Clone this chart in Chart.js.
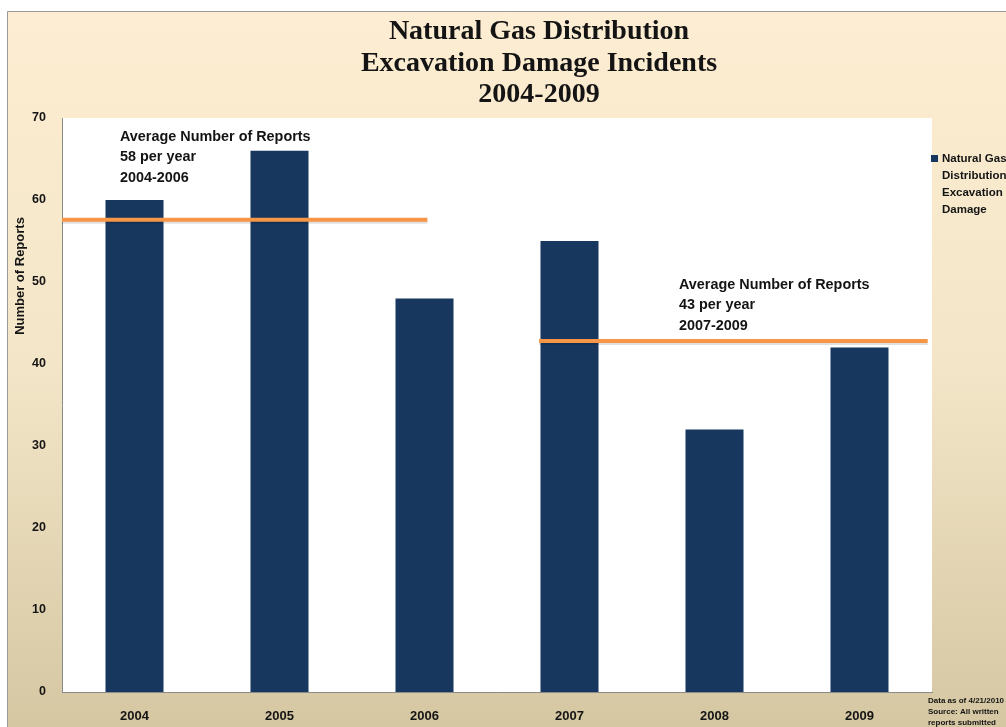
<!DOCTYPE html>
<html>
<head>
<meta charset="utf-8">
<script src="https://cdn.jsdelivr.net/npm/chart.js@4"></script>
<style>
  html, body { margin: 0; padding: 0; background: #fff; }
  #wrap { width: 1006px; height: 727px; }
</style>
</head>
<body>
<div id="wrap"><canvas id="gasChart" width="1006" height="727"></canvas></div>
<script>
// data
const years = ["2004", "2005", "2006", "2007", "2008", "2009"];
const reports = [60, 66, 48, 55, 32, 42];
const yTicks = [0, 10, 20, 30, 40, 50, 60, 70];
const titleLines = ["Natural Gas Distribution", "Excavation Damage Incidents", "2004-2009"];
const seriesLabel = ["Natural Gas", "Distribution", "Excavation", "Damage"];
const footNote = ["Data as of 4/21/2010", "Source: All written", "reports submitted"];

// average lines: level + range in category units
const avgLevels = [57.6, 42.8];
const avgFrom = [-0.5, 2.79];
const avgTo = [2.02, 5.47];
const avgText = [
  ["Average Number of Reports", "58 per year", "2004-2006"],
  ["Average Number of Reports", "43 per year", "2007-2009"]
];

const navy = "#17375e";
const orange = "#f79646";
const ink = "#141414";
const sans = "'Liberation Sans', Arial, sans-serif";

const backdrop = {
  id: "backdrop",
  beforeDraw(chart) {
    const c = chart.ctx;
    const a = chart.chartArea;
    c.save();
    c.fillStyle = "#fff";
    c.fillRect(0, 0, chart.width, chart.height);
    const g = c.createLinearGradient(0, 11, 0, chart.height);
    g.addColorStop(0, "#fdedd2");
    g.addColorStop(0.5, "#f3e6c8");
    g.addColorStop(1, "#d5c7a2");
    c.fillStyle = g;
    c.fillRect(7, 11, chart.width - 7, chart.height - 11);
    c.strokeStyle = "#9a9a9a";
    c.lineWidth = 1;
    c.beginPath();
    c.moveTo(7.5, chart.height);
    c.lineTo(7.5, 11.5);
    c.lineTo(chart.width, 11.5);
    c.stroke();
    c.fillStyle = "#fff";
    c.fillRect(a.left, a.top, a.right - a.left, a.bottom - a.top);
    c.restore();
  }
};

const extras = {
  id: "extras",
  afterDraw(chart) {
    const c = chart.ctx;
    const a = chart.chartArea;
    const x = chart.scales.x;
    const y = chart.scales.y;
    c.save();

    // title
    c.fillStyle = ink;
    c.textAlign = "center";
    c.textBaseline = "middle";
    c.font = "bold 28px 'Liberation Serif', 'DejaVu Serif', serif";
    titleLines.forEach((t, i) => c.fillText(t, 539, 32 + i * 31.5));

    // average lines
    avgLevels.forEach((v, i) => {
      const py = y.getPixelForValue(v);
      c.strokeStyle = "rgba(0,0,0,0.12)";
      c.lineWidth = 4;
      c.beginPath();
      c.moveTo(x.getPixelForValue(avgFrom[i]), py + 2);
      c.lineTo(x.getPixelForValue(avgTo[i]), py + 2);
      c.stroke();
      c.strokeStyle = orange;
      c.beginPath();
      c.moveTo(x.getPixelForValue(avgFrom[i]), py);
      c.lineTo(x.getPixelForValue(avgTo[i]), py);
      c.stroke();
    });

    // average notes
    c.fillStyle = ink;
    c.textAlign = "left";
    c.font = "bold 14.4px " + sans;
    const notePos = [[a.left + 58, a.top + 19], [a.left + 617, a.top + 167]];
    avgText.forEach((lines, i) => {
      lines.forEach((t, j) => c.fillText(t, notePos[i][0], notePos[i][1] + j * 20.5));
    });

    // y axis title
    c.save();
    c.translate(20, 276);
    c.rotate(-Math.PI / 2);
    c.textAlign = "center";
    c.font = "bold 13px " + sans;
    c.fillText("Number of Reports", 0, 0);
    c.restore();

    // legend
    const ds = chart.data.datasets[0];
    c.fillStyle = ds.backgroundColor;
    c.fillRect(931, 155, 7, 7);
    c.fillStyle = ink;
    c.font = "bold 11.5px " + sans;
    seriesLabel.forEach((t, i) => c.fillText(t, 942, 159 + i * 17));

    // footnote
    c.font = "bold 8px " + sans;
    footNote.forEach((t, i) => c.fillText(t, 928, 701 + i * 11));

    c.restore();
  }
};

new Chart(document.getElementById("gasChart").getContext("2d"), {
  type: "bar",
  data: {
    labels: years,
    datasets: [{
      label: seriesLabel.join(" "),
      data: reports,
      backgroundColor: navy,
      borderWidth: 0,
      categoryPercentage: 0.8,
      barPercentage: 0.5
    }]
  },
  options: {
    responsive: false,
    animation: false,
    layout: { padding: { top: 118, left: 0, right: 74, bottom: 0 } },
    plugins: {
      legend: { display: false },
      title: { display: false },
      tooltip: { enabled: false }
    },
    scales: {
      x: {
        grid: { display: false, drawTicks: false },
        border: { display: true, color: "#8a8a8a", width: 1 },
        ticks: { color: ink, padding: 17, font: { family: sans, size: 13, weight: "bold" } },
        afterFit(s) { s.height = 35; }
      },
      y: {
        min: 0,
        max: 70,
        afterBuildTicks(s) { s.ticks = yTicks.map(v => ({ value: v })); },
        grid: { display: false, drawTicks: false },
        border: { display: true, color: "#8a8a8a", width: 1 },
        ticks: { color: ink, padding: 16, font: { family: sans, size: 12.5, weight: "bold" } },
        afterFit(s) { s.width = 62; }
      }
    }
  },
  plugins: [backdrop, extras]
});
</script>
</body>
</html>
